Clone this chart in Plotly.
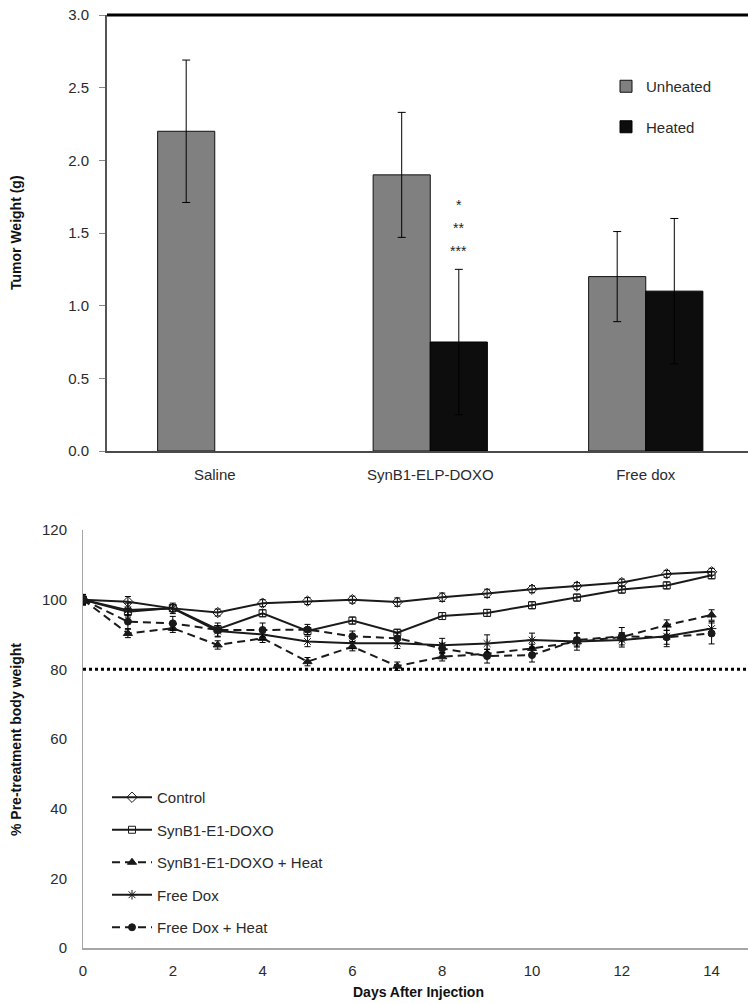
import plotly.graph_objects as go

# ---------------- Top chart data ----------------
categories = ["Saline", "SynB1-ELP-DOXO", "Free dox"]
unheated = [2.20, 1.90, 1.20]
unheated_err = [0.49, 0.43, 0.31]
heated = [None, 0.75, 1.10]
heated_err = [None, 0.50, 0.50]
sig_labels = ["*", "**", "***"]
sig_y = [1.69, 1.535, 1.375]
sig_category = 1  # SynB1-ELP-DOXO, heated bar

# ---------------- Bottom chart data ----------------
days = list(range(15))
control = [100, 99.4, 97.5, 96.3, 99.0, 99.6, 100.0, 99.3, 100.7, 101.8, 103.0, 103.9, 104.9, 107.4, 108.0]
control_err = [1.5, 1.5, 1.0, 1.0, 1.0, 1.0, 1.0, 1.2, 1.2, 1.2, 1.0, 1.0, 1.0, 1.0, 1.0]
synb1 = [100, 96.5, 97.6, 91.5, 96.1, 91.0, 94.0, 90.5, 95.3, 96.2, 98.4, 100.6, 102.9, 104.1, 107.0]
synb1_err = [1.0, 1.0, 1.0, 1.0, 1.0, 1.0, 1.0, 1.0, 1.0, 1.0, 1.0, 1.0, 1.0, 1.0, 1.0]
synb1_heat = [100, 90.3, 91.8, 87.0, 88.9, 82.2, 86.5, 80.9, 83.6, 84.5, 86.0, 87.9, 89.3, 92.7, 95.6]
synb1_heat_err = [1.0, 1.2, 1.2, 1.2, 1.2, 1.2, 1.2, 1.2, 1.2, 1.2, 1.2, 1.2, 1.2, 1.5, 1.5]
free_dox = [100, 97.0, 97.5, 91.0, 90.0, 88.0, 87.5, 87.5, 86.9, 87.4, 88.4, 88.0, 88.4, 89.5, 91.7]
free_dox_err = [1.5, 2.0, 1.5, 1.5, 1.5, 1.5, 1.5, 1.5, 2.0, 2.5, 2.0, 2.5, 2.0, 3.0, 2.0]
free_dox_heat = [100, 93.7, 93.2, 91.3, 91.3, 91.4, 89.5, 88.9, 86.0, 83.8, 84.1, 88.4, 89.5, 89.2, 90.3]
free_dox_heat_err = [1.5, 2.0, 2.0, 2.0, 2.0, 1.5, 1.5, 1.5, 1.5, 2.0, 2.0, 2.0, 2.5, 2.0, 3.0]
threshold = 80
x_ticks = [0, 2, 4, 6, 8, 10, 12, 14]
y2_ticks = [0, 20, 40, 60, 80, 100, 120]
y1_ticks = [0.0, 0.5, 1.0, 1.5, 2.0, 2.5, 3.0]

W, H = 748, 1004
FONT = "Liberation Sans, Arial, sans-serif"
TXT = "#2b2b2b"


def px(xp):
    return xp / W


def py(yp):
    return 1 - yp / H


idx = list(range(len(categories)))

fig = go.Figure()

fig.add_trace(go.Bar(
    x=idx, y=unheated, name="Unheated", xaxis="x", yaxis="y",
    marker=dict(color="#808080", line=dict(color="#111111", width=1)),
    error_y=dict(type="data", array=unheated_err, color="black", thickness=1, width=4),
    legend="legend", legendgroup="u",
))
fig.add_trace(go.Bar(
    x=idx, y=heated, name="Heated", xaxis="x", yaxis="y",
    marker=dict(color="#0d0d0d", line=dict(color="#000000", width=1)),
    error_y=dict(type="data", array=heated_err, color="black", thickness=1, width=4),
    legend="legend", legendgroup="h",
))

line_color = "#1a1a1a"
series = [
    ("Control", control, control_err, "solid", "diamond-open", 8),
    ("SynB1-E1-DOXO", synb1, synb1_err, "solid", "square-open", 7),
    ("SynB1-E1-DOXO + Heat", synb1_heat, synb1_heat_err, "8px,5px", "triangle-up", 8),
    ("Free Dox", free_dox, free_dox_err, "solid", "asterisk-open", 8),
    ("Free Dox + Heat", free_dox_heat, free_dox_heat_err, "8px,5px", "circle", 7),
]
for i, (name, vals, errs, dash, sym, size) in enumerate(series):
    fig.add_trace(go.Scatter(
        x=days, y=vals, name=name, xaxis="x2", yaxis="y2", mode="lines+markers",
        line=dict(color=line_color, width=2, dash=dash),
        marker=dict(symbol=sym, size=size, color=line_color, line=dict(color=line_color, width=1)),
        error_y=dict(type="data", array=errs, color="black", thickness=1, width=3),
        legend="legend2", legendgroup=f"g{i}",
    ))

annotations = []
for lab, yv in zip(sig_labels, sig_y):
    annotations.append(dict(x=sig_category + 0.1325, y=yv, xref="x", yref="y", text=lab,
                            xanchor="center", yanchor="middle",
                            showarrow=False, font=dict(family=FONT, size=14, color="#222")))

annotations += [
    dict(x=px(16), y=py(233), xref="paper", yref="paper", text="<b>Tumor Weight (g)</b>",
         xanchor="center", yanchor="middle",
         textangle=-90, showarrow=False, font=dict(family=FONT, size=14, color="#111")),
    dict(x=px(16), y=py(740), xref="paper", yref="paper", text="<b>% Pre-treatment body weight</b>",
         xanchor="center", yanchor="middle",
         textangle=-90, showarrow=False, font=dict(family=FONT, size=14, color="#111")),
    dict(x=px(418), y=py(992), xref="paper", yref="paper", text="<b>Days After Injection</b>",
         xanchor="center", yanchor="middle",
         showarrow=False, font=dict(family=FONT, size=14, color="#111")),
]

shapes = [
    dict(type="line", xref="x domain", yref="y domain", x0=0, x1=1, y0=1, y1=1,
         line=dict(color="black", width=3)),
    dict(type="line", xref="x2 domain", yref="y2", x0=0, x1=1, y0=threshold, y1=threshold,
         line=dict(color="black", width=3, dash="dot")),
]

fig.update_layout(
    width=W, height=H,
    margin=dict(l=0, r=0, t=0, b=0, pad=0, autoexpand=False),
    paper_bgcolor="white", plot_bgcolor="white",
    font=dict(family=FONT, size=15, color=TXT),
    barmode="group", bargap=0.47, bargroupgap=0,
    showlegend=True,
    xaxis=dict(
        domain=[px(107), 1], anchor="y", automargin=False,
        range=[-0.5, -0.5 + (W - 107) / 215.5],
        tickvals=idx, ticktext=categories,
        showgrid=False, zeroline=False,
        showline=True, linecolor="#4a4a4a", linewidth=2,
        ticks="outside", ticklen=9, tickcolor="rgba(0,0,0,0)",
        tickfont=dict(size=15, color=TXT),
    ),
    yaxis=dict(
        domain=[py(451), py(15)], anchor="x", automargin=False,
        range=[0, 3.0], tickvals=y1_ticks, ticktext=[f"{v:.1f}" for v in y1_ticks],
        showgrid=False, zeroline=False,
        showline=True, linecolor="#555555", linewidth=2,
        ticks="outside", ticklen=6, tickcolor="#888888", tickwidth=1,
        ticklabelstandoff=7,
        tickfont=dict(size=15, color=TXT),
    ),
    xaxis2=dict(
        domain=[px(83), 1], anchor="y2", automargin=False,
        range=[0, (W - 83) / 44.9],
        tickvals=x_ticks,
        showgrid=False, zeroline=False,
        showline=True, linecolor="#a6a6a6", linewidth=1.5,
        ticks="outside", ticklen=8, tickcolor="rgba(0,0,0,0)",
        tickfont=dict(size=15, color=TXT),
    ),
    yaxis2=dict(
        domain=[py(948), py(530)], anchor="x2", automargin=False,
        range=[0, 120], tickvals=y2_ticks,
        showgrid=False, zeroline=False,
        showline=True, linecolor="#a6a6a6", linewidth=1,
        ticks="", ticklabelstandoff=12,
        tickfont=dict(size=15, color=TXT),
    ),
    legend=dict(
        x=px(606), y=py(70), xanchor="left", yanchor="top",
        bgcolor="rgba(0,0,0,0)", font=dict(size=15, color=TXT),
        tracegroupgap=18, itemwidth=30,
    ),
    legend2=dict(
        x=px(107), y=py(781), xanchor="left", yanchor="top",
        bgcolor="rgba(0,0,0,0)", font=dict(size=15, color=TXT),
        tracegroupgap=10, itemwidth=40,
    ),
    annotations=annotations,
    shapes=shapes,
)

fig.write_html("out.html")
